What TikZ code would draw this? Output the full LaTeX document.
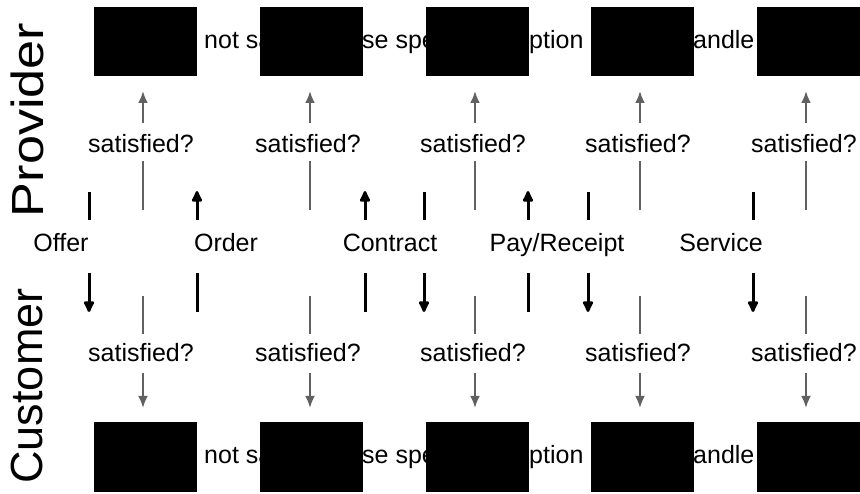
\documentclass[tikz,border=0pt]{standalone}
\usepackage{fontspec}
\setmainfont{Liberation Sans}
\usetikzlibrary{arrows.meta}
\begin{document}
\begin{tikzpicture}[x=1pt,y=-1pt,
  blk/.style={fill=black,draw=none,minimum width=103pt,minimum height=69pt,inner sep=0pt},
  frag/.style={anchor=base west,inner sep=0pt,font=\fontsize{25}{30}\selectfont},
  sat/.style={anchor=base,inner sep=0pt,font=\fontsize{25}{30}\selectfont},
  msglab/.style={anchor=base,inner sep=0pt,font=\fontsize{25}{30}\selectfont},
  chk/.style={draw=black!62,line width=2.4pt},
  chkarr/.style={chk,-{Latex[length=12pt,width=10pt]}},
  mline/.style={draw=black,line width=3pt},
  marr/.style={mline,-{Latex[length=14pt,width=13pt,round]}},
  lane/.style={rotate=90,inner sep=0pt,font=\fontsize{45}{50}\selectfont}
]
\useasboundingbox (0,0) rectangle (860,494);
\fill[white] (0,0) rectangle (860,494);

% lane titles
\node[lane] (prov) at (27,120) {\scalebox{1.16}[1]{Provider}};
\node[lane] (cust) at (27,386) {Customer};

% text fragments (partly covered by boxes)
\foreach \y/\r in {49/t,464/b}{
  \node[frag] (f1\r) at (204,\y) {not sa};
  \node[frag] (f2\r) at (362,\y) {se spe};
  \node[frag] (f3\r) at (529,\y) {ption a};
  \node[frag] (f4\r) at (693,\y) {andle};
}

% boxes and satisfied? checks
\foreach \i/\x/\c in {1/145.5/143,2/311/310,3/477/475,4/642/640,5/808/806}{
  \node[blk] (pt\i) at (\x,41.5) {};
  \node[blk] (cb\i) at (\x,457) {};
  % provider side
  \coordinate (pa\i) at (\c,210);
  \coordinate (pb\i) at (\c,161);
  \coordinate (pc\i) at (\c,123);
  \coordinate (pd\i) at (\c,91);
  \node[sat] (ps\i) at (\c-2,153) {satisfied?};
  \draw[chk] (pa\i) -- (pb\i);
  \draw[chkarr] (pc\i) -- (pd\i);
  % customer side
  \coordinate (ca\i) at (\c,296);
  \coordinate (cb2\i) at (\c,334);
  \coordinate (cc\i) at (\c,373);
  \coordinate (cd\i) at (\c,408);
  \node[sat] (cs\i) at (\c-2,362) {satisfied?};
  \draw[chk] (ca\i) -- (cb2\i);
  \draw[chkarr] (cc\i) -- (cd\i);
}

% message labels
\node[msglab] (offer) at (61,252) {Offer};
\node[msglab] (order) at (226,252) {Order};
\node[msglab] (contract) at (390,252) {Contract};
\node[msglab] (pay) at (557,252) {Pay/Receipt};
\node[msglab] (service) at (721,252) {Service};

% downward messages (provider -> customer)
\foreach \n/\x in {d1/89,d2/424,d3/588,d4/753}{
  \coordinate (\n a) at (\x,192);
  \coordinate (\n b) at (\x,220);
  \coordinate (\n c) at (\x,273);
  \coordinate (\n d) at (\x,312);
  \draw[mline] (\n a) -- (\n b);
  \draw[marr] (\n c) -- (\n d);
}
% upward messages (customer -> provider)
\foreach \n/\x in {u1/197,u2/365,u3/528}{
  \coordinate (\n a) at (\x,312);
  \coordinate (\n b) at (\x,273);
  \coordinate (\n c) at (\x,220);
  \coordinate (\n d) at (\x,191);
  \draw[mline] (\n a) -- (\n b);
  \draw[marr] (\n c) -- (\n d);
}
\end{tikzpicture}
\end{document}
